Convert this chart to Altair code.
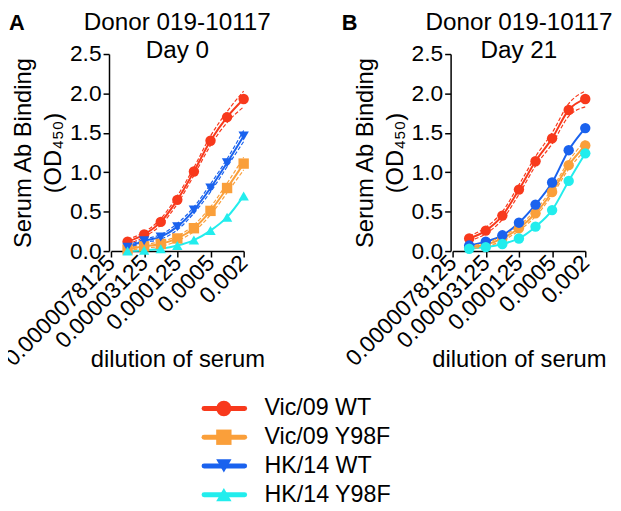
import json
import altair as alt
import pandas as pd

# ---------------- data ----------------
series_names = ["Vic/09 WT", "Vic/09 Y98F", "HK/14 WT", "HK/14 Y98F"]
series_colors = ["#F8391C", "#FA9F3A", "#1A62EE", "#22EDED"]
series_shapes = ["circle", "square", "triangle-down", "triangle-up"]

dilution = [1.5625e-5, 3.125e-5, 6.25e-5, 1.25e-4, 2.5e-4, 5e-4, 1e-3, 2e-3]

tick_values = [7.8125e-6, 3.125e-5, 1.25e-4, 5e-4, 2e-3]
tick_labels = ["0.0000078125", "0.00003125", "0.000125", "0.0005", "0.002"]
y_ticks = [0.0, 0.5, 1.0, 1.5, 2.0, 2.5]

# Day 0
vic_wt_d0 = [0.12, 0.21, 0.37, 0.65, 1.01, 1.40, 1.70, 1.93]
vic_y98f_d0 = [0.02, 0.06, 0.09, 0.16, 0.29, 0.51, 0.80, 1.11]
hk_wt_d0 = [0.05, 0.13, 0.18, 0.31, 0.52, 0.80, 1.12, 1.46]
hk_y98f_d0 = [0.00, 0.01, 0.03, 0.07, 0.14, 0.26, 0.43, 0.70]
# Day 21
vic_wt_d21 = [0.16, 0.26, 0.45, 0.78, 1.14, 1.43, 1.79, 1.93]
vic_y98f_d21 = [0.05, 0.08, 0.16, 0.29, 0.48, 0.75, 1.09, 1.34]
hk_wt_d21 = [0.07, 0.12, 0.20, 0.36, 0.59, 0.87, 1.28, 1.56]
hk_y98f_d21 = [0.03, 0.05, 0.09, 0.16, 0.31, 0.52, 0.89, 1.24]

# half-widths of the dashed confidence bands
vic_wt_d0_band = [0.03, 0.03, 0.04, 0.05, 0.05, 0.06, 0.07, 0.10]
vic_y98f_d0_band = [0.02, 0.02, 0.03, 0.03, 0.04, 0.05, 0.06, 0.08]
hk_wt_d0_band = [0.02, 0.02, 0.03, 0.04, 0.04, 0.05, 0.05, 0.07]
hk_y98f_d0_band = [0, 0, 0, 0, 0, 0, 0, 0]
vic_wt_d21_band = [0.03, 0.04, 0.05, 0.06, 0.06, 0.07, 0.08, 0.10]
vic_y98f_d21_band = [0.02, 0.02, 0.03, 0.03, 0.04, 0.04, 0.05, 0.06]
hk_wt_d21_band = [0, 0, 0, 0, 0, 0, 0, 0]
hk_y98f_d21_band = [0, 0, 0, 0, 0, 0, 0, 0]

day0 = [vic_wt_d0, vic_y98f_d0, hk_wt_d0, hk_y98f_d0]
day0_band = [vic_wt_d0_band, vic_y98f_d0_band, hk_wt_d0_band, hk_y98f_d0_band]
day21 = [vic_wt_d21, vic_y98f_d21, hk_wt_d21, hk_y98f_d21]
day21_band = [vic_wt_d21_band, vic_y98f_d21_band, hk_wt_d21_band, hk_y98f_d21_band]


def frame(values, bands):
    rows = []
    for name, ys, bs in zip(series_names, values, bands):
        for x, y, b in zip(dilution, ys, bs):
            rows.append({"series": name, "x": x, "y": y, "band": b,
                         "lo": y - b, "hi": y + b})
    return pd.DataFrame(rows)


FONT = "Liberation Sans"
W, H = 134, 199

color_scale = alt.Scale(domain=series_names, range=series_colors)
shape_scale = alt.Scale(domain=series_names, range=series_shapes)

label_expr = f"{json.dumps(tick_labels)}[indexof({json.dumps(tick_values)}, datum.value)]"

x_scale = alt.Scale(type="log", domain=[tick_values[0], tick_values[-1]], nice=False)
x_axis = alt.Axis(values=tick_values, labelExpr=label_expr, labelAngle=315,
                  labelAlign="right", labelBaseline="middle", labelOverlap=False,
                  labelFlush=False, labelPadding=2, title="dilution of serum",
                  titleY=98, titleBaseline="top")
y_scale = alt.Scale(domain=[0, 2.5], nice=False)
y_axis = alt.Axis(values=y_ticks, format=".1f", title=["Serum Ab Binding", "(OD₄₅₀)"],
                  labelOverlap=False, labelFlush=False,
                  titlePadding=4, titleLineHeight=30, offset=2)


def text_layer(txt, x, y, size, weight="normal", align="center"):
    return alt.Chart(pd.DataFrame({"t": [txt]})).mark_text(
        font=FONT, fontSize=size, fontWeight=weight, align=align,
        baseline="alphabetic", color="black"
    ).encode(text="t:N", x=alt.value(x), y=alt.value(y))


def panel(df, title_lines, letter, letter_x, use_shapes):
    base = alt.Chart(df)
    xenc = alt.X("x:Q", scale=x_scale, axis=x_axis)
    cenc = alt.Color("series:N", scale=color_scale, legend=None)

    band_lo = base.transform_filter("datum.band > 0").mark_line(
        interpolate="monotone", strokeWidth=1.2, strokeDash=[4, 2]
    ).encode(x=xenc, y=alt.Y("lo:Q", scale=y_scale, axis=y_axis), color=cenc,
             detail="series:N")
    band_hi = base.transform_filter("datum.band > 0").mark_line(
        interpolate="monotone", strokeWidth=1.2, strokeDash=[4, 2]
    ).encode(x=xenc, y=alt.Y("hi:Q", scale=y_scale, axis=y_axis), color=cenc,
             detail="series:N")
    yenc = alt.Y("y:Q", scale=y_scale, axis=y_axis)
    line = base.mark_line(interpolate="monotone", strokeWidth=2).encode(
        x=xenc, y=yenc, color=cenc, detail="series:N")
    if use_shapes:
        shp = alt.Shape("series:N", scale=shape_scale, legend=None)
    else:
        shp = alt.value("circle")
    pts = base.mark_point(filled=True, size=110, opacity=1).encode(
        x=xenc, y=yenc, color=cenc, shape=shp)

    t1 = text_layer(title_lines[0], W / 2, -24, 24.5)
    t2 = text_layer(title_lines[1], W / 2, 4, 24.5)
    lab = text_layer(letter, letter_x, -24, 22, weight="bold", align="left")

    return alt.layer(line, band_lo, band_hi, pts, t1, t2, lab).properties(
        width=W, height=H)


pA = panel(frame(day0, day0_band), ["Donor 019-10117", "Day 0"], "A", -103, True)
pB = panel(frame(day21, day21_band), ["Donor 019-10117", "Day 21"], "B", -112, False)

# legend drawn as its own small chart
leg_df = pd.DataFrame({"series": series_names})
leg_y = alt.Y("series:N", sort=series_names, axis=None,
              scale=alt.Scale(type="point", range=[15, 102], padding=0))
leg_c = alt.Color("series:N", scale=color_scale, legend=None)
leg_base = alt.Chart(leg_df)
leg_rule = leg_base.mark_rule(strokeWidth=5, strokeCap="round").encode(
    x=alt.value(94), x2=alt.value(135), y=leg_y, color=leg_c)
leg_pt = leg_base.mark_point(filled=True, size=240, opacity=1).encode(
    x=alt.value(114), y=leg_y, color=leg_c,
    shape=alt.Shape("series:N", scale=shape_scale, legend=None))
leg_txt = leg_base.mark_text(font=FONT, fontSize=23.5, align="left", baseline="middle",
                             color="black").encode(
    x=alt.value(155), y=leg_y, text="series:N")
legend = alt.layer(leg_rule, leg_pt, leg_txt).properties(width=W, height=110)

chart = alt.concat(pA, pB, legend, columns=2, spacing={"row": 144, "column": 211},
                   bounds="flush").properties(
    padding={"left": -8, "top": 0, "right": 0, "bottom": 0}
).configure_view(stroke=None).configure_axis(
    labelFont=FONT, labelFontSize=23, labelColor="black",
    titleFont=FONT, titleFontSize=24, titleFontWeight="normal", titleColor="black",
    domainColor="black", domainWidth=1.5, tickColor="black", tickWidth=1.5,
    tickSize=6, grid=False,
)

chart.save("out.html", embed_options={"renderer": "svg", "actions": False})
